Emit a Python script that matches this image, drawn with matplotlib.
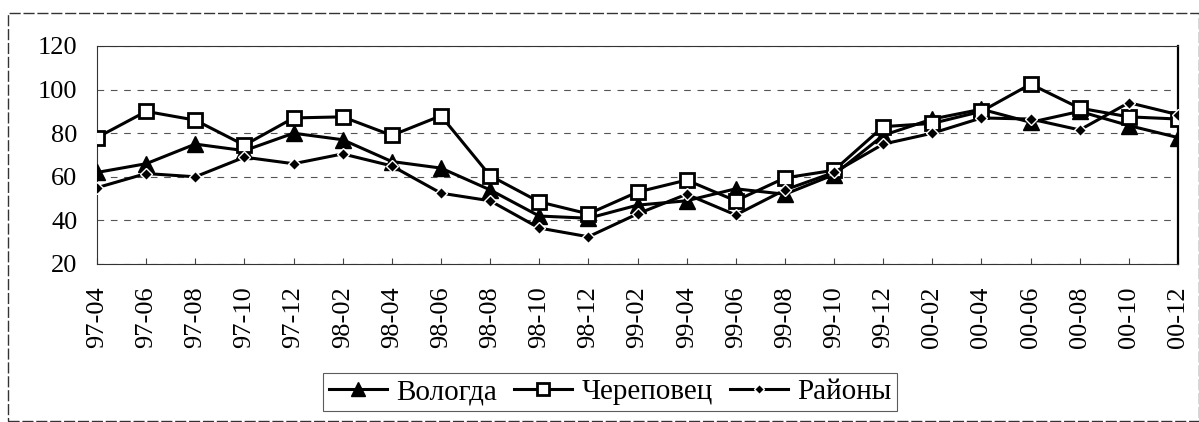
import numpy as np
import matplotlib
matplotlib.use("Agg")
import matplotlib.pyplot as plt
from matplotlib.patches import Rectangle

plt.rcParams['font.family'] = 'serif'
plt.rcParams['font.serif'] = ['Liberation Serif', 'DejaVu Serif']

# Периоды (год-месяц)
months = ["97-04", "97-06", "97-08", "97-10", "97-12", "98-02", "98-04", "98-06",
          "98-08", "98-10", "98-12", "99-02", "99-04", "99-06", "99-08", "99-10",
          "99-12", "00-02", "00-04", "00-06", "00-08", "00-10", "00-12"]

vologda = [62, 66, 75, 72, 80, 77, 67, 64, 54, 42, 41, 47, 49, 54.5, 52, 61,
           79, 86.5, 91, 85, 90, 83.5, 78]
cherepovets = [78, 90, 86, 74.5, 87, 87.5, 79, 88, 60.5, 48.5, 43, 53, 58.5, 49, 59.5, 63,
               83, 84.5, 90, 102.5, 91.5, 87.5, 86.5]
rayony = [55, 61.5, 60, 69, 66, 70.5, 65, 52.5, 49, 36.5, 32.5, 43, 52, 42.5, 54, 62,
          75, 80, 87, 86.5, 81.5, 94, 88.5]

fig = plt.figure(figsize=(11.99, 4.22), dpi=100)
ax = fig.add_axes([97 / 1199, 1 - 264 / 422, (1178 - 97) / 1199, (264 - 46) / 422])

x = np.arange(len(months))
ax.plot(x, vologda, color='black', lw=2.2, marker='^', ms=11, mfc='black', mec='black',
        label='Вологда', zorder=3)
ax.plot(x, cherepovets, color='black', lw=2.2, marker='s', ms=10, mfc='white', mec='black',
        mew=2, label='Череповец', zorder=3)
ax.plot(x, rayony, color='black', lw=2.2, marker='D', ms=6, mfc='black', mec='white',
        mew=1, label='Районы', zorder=4)

ax.set_xlim(0, len(months) - 1)
ax.set_ylim(20, 120)
ax.set_yticks(range(20, 121, 20))
ax.set_xticks(x)
ax.set_xticklabels(months, rotation=90)
ax.tick_params(axis='both', labelsize=19, length=4, width=0.8, color='#444444')
ax.tick_params(axis='y', length=0, pad=14)
ax.tick_params(axis='x', direction='in', pad=16)

ax.grid(axis='y', ls=(0, (6, 6)), color='#555555', lw=0.8)
for s in ax.spines.values():
    s.set_color('#333333')
    s.set_linewidth(0.8)
ax.spines['right'].set_linewidth(1.6)
ax.spines['right'].set_color('black')

leg = fig.legend(loc='center', bbox_to_anchor=(610 / 1199, 1 - 392 / 422), ncol=3,
                 fontsize=21, frameon=True, fancybox=False, edgecolor='#333333',
                 handlelength=2.0, handletextpad=0.3, columnspacing=0.6,
                 borderpad=0.2, markerscale=0.9)
leg.get_frame().set_linewidth(0.8)

# внешняя рамка области диаграммы
fig.patches.append(Rectangle((8 / 1199, 0.002), (1199 - 8) / 1199, 1 - 13 / 422 - 0.002,
                             transform=fig.transFigure, fill=False, lw=1.0,
                             ec='#333333', ls=(0, (8, 2))))

fig.savefig("out.png", dpi=100)
